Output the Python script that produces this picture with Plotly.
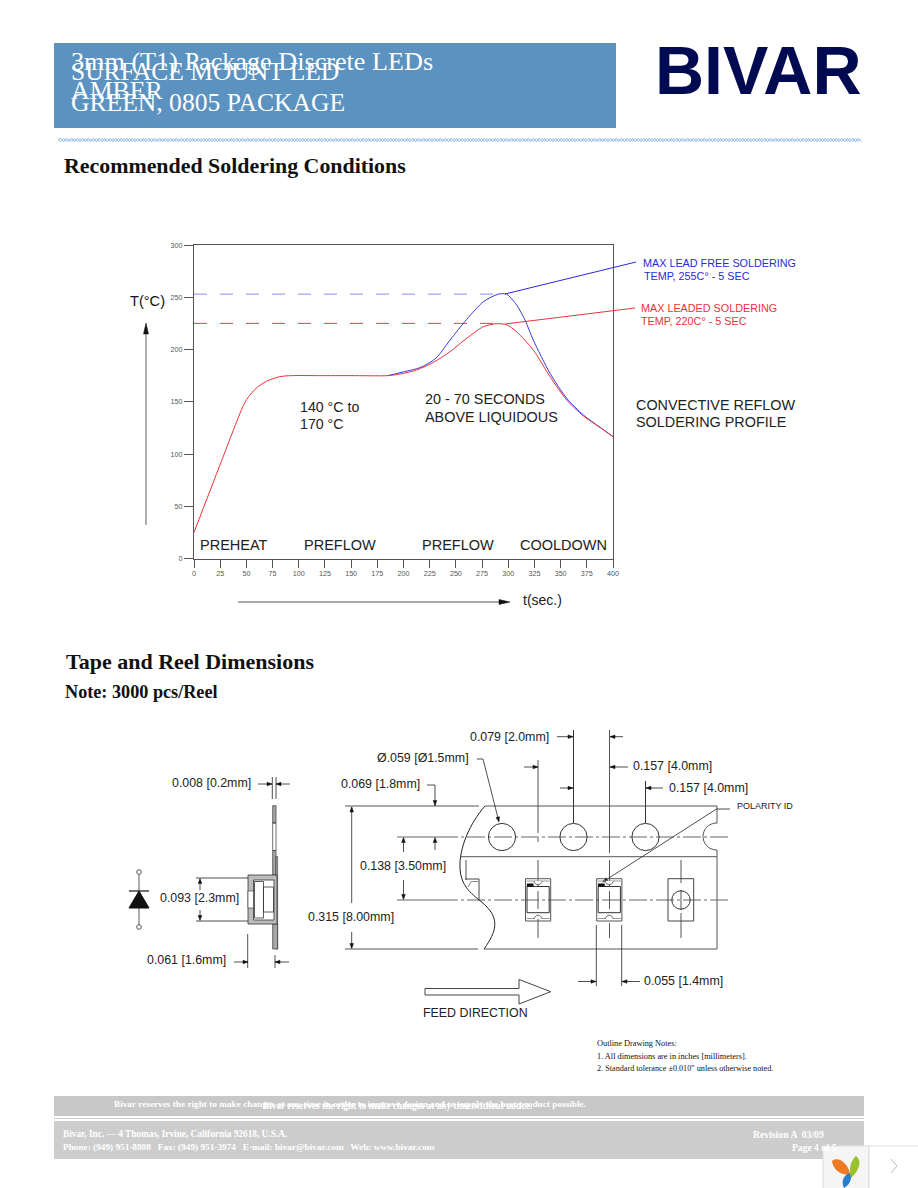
import plotly.graph_objects as go

W, H = 918, 1188

# ---- chart data
red_t = [0, 25, 46.7, 51.5, 59.4, 69, 81.6, 92.8, 120, 150, 185, 196.7, 212.6, 228.5, 244.4, 260.3, 276.2, 288.9, 298.4, 308, 323.9, 339.9, 355.8, 371.7, 387.6, 400]
red_T = [25, 90, 145.5, 154, 163, 169.5, 174, 175, 175, 175, 175, 176.5, 180.4, 187.7, 197.9, 210.7, 221.8, 224.7, 223.7, 217, 199.5, 174, 151.7, 136.4, 125.5, 116.6]
blue_t = [185, 196.7, 216.7, 231, 244.4, 260.3, 276.2, 290.5, 298.4, 308, 316, 323.9, 339.9, 355.8, 371.7, 387.6, 400]
blue_T = [175, 177.8, 183, 191.7, 209, 228.8, 245.7, 253, 253, 242.6, 228.2, 209, 177.2, 153.3, 137.3, 125.5, 116.6]
dash_t = [0, 290]
dash_blue = [253, 253]
dash_red = [225, 225]
x_ticks = list(range(0, 401, 25))
y_ticks = list(range(0, 301, 50))

SANS = "Liberation Sans"
SERIF = "Liberation Serif"
shapes, ann = [], []

def X(x): return x / W
def Y(y): return 1 - y / H

def line(x0, y0, x1, y1, c="#222", w=1, dash=None):
    shapes.append(dict(type="line", xref="paper", yref="paper", x0=X(x0), y0=Y(y0), x1=X(x1), y1=Y(y1),
                       line=dict(color=c, width=w, dash=dash or "solid")))

def rect(x0, y0, x1, y1, fill="rgba(0,0,0,0)", c="#333", w=1):
    shapes.append(dict(type="rect", xref="paper", yref="paper", x0=X(x0), y0=Y(y0), x1=X(x1), y1=Y(y1),
                       fillcolor=fill, line=dict(color=c, width=w)))

def circle(cx, cy, r, fill="rgba(0,0,0,0)", c="#333", w=1):
    shapes.append(dict(type="circle", xref="paper", yref="paper", x0=X(cx - r), y0=Y(cy - r), x1=X(cx + r), y1=Y(cy + r),
                       fillcolor=fill, line=dict(color=c, width=w)))

def path(d, fill="rgba(0,0,0,0)", c="#333", w=1):
    out = []
    for seg in d:
        cmd, pts = seg[0], seg[1:]
        coords = " ".join(f"{X(pts[i]):.5f},{Y(pts[i+1]):.5f}" for i in range(0, len(pts), 2))
        out.append(f"{cmd} {coords}" if coords else cmd)
    shapes.append(dict(type="path", xref="paper", yref="paper", path=" ".join(out), fillcolor=fill,
                       line=dict(color=c, width=w)))

def head(x, y, dx, dy, s=5, hw=1.8, fill="#111"):
    px, py = -dy, dx
    path([("M", x, y), ("L", x - dx * s + px * hw, y - dy * s + py * hw),
          ("L", x - dx * s - px * hw, y - dy * s - py * hw), ("Z",)], fill=fill, c=fill, w=0.5)

def text(x, y, s, size=12, c="#111", font=SANS, anchor="left", op=1):
    ann.append(dict(x=X(x - 1), y=Y(y), xref="paper", yref="paper", text=s, showarrow=False, xanchor=anchor,
                    yanchor="middle", align=anchor, borderpad=0, opacity=op,
                    font=dict(family=font, size=size, color=c)))

# ---- page header
rect(54, 43, 616, 128, fill="#5b92bf", c="#5b92bf", w=0)
for x, y, s, sz in [(71, 61, "3mm (T1) Package Discrete LEDs", 26.2), (71, 72, "SURFACE MOUNT LED", 25.5),
                    (71, 91, "AMBER", 25.8), (71, 102, "GREEN, 0805 PACKAGE", 25.6)]:
    text(x, y, s, size=sz, c="white", font=SERIF)
text(655, 70, "<b>BIVAR</b>", size=68, c="#000a50", font=SANS)

for phase, col in [(0, "#7aaee8"), (1, "#a8c8f0")]:
    zig = [("M", 58, 140)]
    xz = 58.0
    k = phase
    while xz < 860:
        xz += 2.75
        zig.append(("L", xz, 138.4 if k % 2 == 0 else 141.6))
        k += 1
    path(zig, c=col, w=1)

text(64, 166, "<b>Recommended Soldering Conditions</b>", size=21.9, font=SERIF)
text(66, 661, "<b>Tape and Reel Dimensions</b>", size=22, font=SERIF)
text(65, 692, "<b>Note: 3000 pcs/Reel</b>", size=18.2, font=SERIF)

# ---- chart texts and arrows
line(146, 525, 146, 330, c="#777", w=1.2)
head(146, 323, 0, -1, s=11, hw=2.5)
line(238, 602, 500, 602, c="#555", w=1.2)
head(510, 602, 1, 0, s=11, hw=2.5)
line(505, 294, 636, 262, c="#2a2ad8")
line(505, 324, 635, 308, c="#e8323c")
text(130, 301, "T(°C)", size=14.6)
text(523, 600, "t(sec.)", size=14, c="#222")
text(300, 407, "140 °C to", size=14.2, c="#222")
text(300, 424, "170 °C", size=14.2, c="#222")
text(425, 399, "20 - 70 SECONDS", size=14.4, c="#222")
text(425, 417, "ABOVE LIQUIDOUS", size=14.4, c="#222")
text(636, 405, "CONVECTIVE REFLOW", size=14.4, c="#222")
text(636, 422, "SOLDERING PROFILE", size=14.4, c="#222")
for x, s in [(200, "PREHEAT"), (304, "PREFLOW"), (422, "PREFLOW"), (520, "COOLDOWN")]:
    text(x, 545, s, size=14.5, c="#222")
text(643, 263, "MAX LEAD FREE SOLDERING", size=10.8, c="#2a2ad8")
text(644, 276, "TEMP, 255C° - 5 SEC", size=10.8, c="#2a2ad8")
text(641, 308, "MAX LEADED SOLDERING", size=10.8, c="#e8323c")
text(641, 321, "TEMP, 220C° - 5 SEC", size=10.8, c="#e8323c")

# ---- side section of tape
H_FILL = "#a8a8a8"
line(272.3, 777, 272.3, 799, w=0.8); line(276, 777, 276, 799, w=0.8)
line(258, 784, 272, 784, w=0.8); head(272, 784, 1, 0)
line(276, 784, 290, 784, w=0.8); head(276, 784, -1, 0)
rect(272.7, 805.7, 276, 823, fill=H_FILL, w=0.7)
rect(272.7, 823, 276, 850.5, w=0.7)
rect(272.7, 850.5, 276, 875, fill=H_FILL, w=0.7)
rect(276, 856.5, 277.6, 949, w=0.7)
rect(272.7, 924, 277.6, 949, fill=H_FILL, w=0.7)
rect(248, 875, 277, 924, fill="#bcbcbc", w=0.8)
rect(253.5, 880, 274, 920, fill="white", w=0.8)
rect(248, 891, 253.5, 908, fill="white", w=0.6)
rect(254.5, 881.5, 263.5, 918, w=0.8)
rect(263.5, 887, 273.5, 912, w=0.8)
line(196, 878, 248, 878, w=0.8); line(196, 921, 248, 921, w=0.8)
line(200, 883, 200, 890, w=0.8); head(200, 878.5, 0, -1)
line(200, 910, 200, 917, w=0.8); head(200, 920.5, 0, 1)
line(247.7, 934, 247.7, 968, w=0.8); line(275, 955, 275, 968, w=0.8)
line(234, 962, 248, 962, w=0.8); head(248, 962, 1, 0)
line(275, 962, 289, 962, w=0.8); head(275, 962, -1, 0)
# diode
line(139, 874, 139, 925, c="#777", w=1.2)
circle(139, 872, 2.3, fill="white", c="#555")
circle(139, 927, 2.3, fill="white", c="#555")
line(129, 891, 149, 891, c="#111", w=1.2)
path([("M", 139, 891), ("L", 129, 908), ("L", 149, 908), ("Z",)], fill="#111", c="#111")

# ---- tape outline
GC = "#555"
line(345, 806, 479, 806, c=GC); line(485, 806, 717, 806, c=GC)
line(345, 949, 478, 949, c=GC); line(484, 949, 717, 949, c=GC)
line(717, 806, 717, 823, c=GC); line(717, 850, 717, 949, c=GC)
path([("M", 717, 823), ("C", 708, 823, 703, 830, 703, 836.5), ("C", 703, 843, 708, 850, 717, 850)], c=GC)
line(461, 856.7, 717, 856.7, c=GC)
path([("M", 485, 806), ("C", 470, 823, 459, 848, 460, 868), ("C", 461, 890, 476, 896, 486, 906),
      ("C", 499, 919, 497, 931, 484, 949)], c="#222")
for y in [837, 900]:
    line(440, y, 728, y, c="#666", w=1, dash="18px,3px,3px,3px")
line(397, 837, 440, 837, c="#666"); line(397, 900, 440, 900, c="#666")
for cx in [502, 573.5, 645.5]:
    circle(cx, 837, 13.6, c="#333")
for x, segs in [(538, [(760, 833), (838, 842), (860, 887), (891, 909), (917, 938)]),
                (609.5, [(730, 853), (860, 887), (891, 909), (923, 938)]),
                (681, [(860, 883), (890, 910), (913, 938)])]:
    for y0, y1 in segs:
        line(x, y0, x, y1, c="#555")
line(573.5, 730, 573.5, 823, c="#333"); line(645.5, 781, 645.5, 823, c="#333")
line(557, 736.7, 573, 736.7, w=0.8); head(573, 736.7, 1, 0)
line(610, 736.7, 623, 736.7, w=0.8); head(610, 736.7, -1, 0)
line(524, 767, 538, 767, w=0.8); head(538, 767, 1, 0)
line(610, 767, 628, 767, w=0.8); head(610, 767, -1, 0)
line(560, 788, 573, 788, w=0.8); head(573, 788, 1, 0)
line(646, 788, 663, 788, w=0.8); head(646, 788, -1, 0)
line(427, 785, 435, 785, w=0.8); line(435, 785, 435, 806, w=0.8); head(435, 805.5, 0, 1)
line(435, 842, 435, 850, w=0.8); head(435, 837.5, 0, -1)
line(351.7, 807, 351.7, 903, w=0.8); head(351.7, 807, 0, -1)
line(351.7, 932, 351.7, 948, w=0.8); head(351.7, 948.5, 0, 1)
line(403.5, 842, 403.5, 852, w=0.8); head(403.5, 837.5, 0, -1)
line(403.5, 880, 403.5, 895, w=0.8); head(403.5, 899.5, 0, 1)
path([("M", 477, 759), ("L", 483, 759), ("L", 498.5, 820)], c="#222", w=0.8); head(499, 822, 0.25, 0.97)
line(716.5, 809, 730, 809, w=0.8)
line(716.5, 809, 602.7, 882, w=0.8); head(602.7, 882, -0.84, 0.54)
# 0.055 dimension
line(596.3, 925, 596.3, 986, w=0.8); line(621.7, 925, 621.7, 986, w=0.8)
line(578, 981.5, 596, 981.5, w=0.8); head(596, 981.5, 1, 0)
line(622, 981.5, 640, 981.5, w=0.8); head(622, 981.5, -1, 0)

# components
line(466, 860, 466, 880, c="#555")
path([("M", 465, 879), ("L", 479, 879), ("L", 479, 901)], c="#444", w=1)
path([("M", 468, 887), ("L", 471, 881.5), ("L", 478, 881.5)], c="#888")
for x0 in [525.5, 596.7]:
    x1 = x0 + 25.2
    cx = x0 + 12.6
    rect(x0, 878.7, x1, 921, c="#555", w=1)
    rect(x0 + 1.5, 886.5, x1 - 1.5, 912.7, c="#333", w=1)
    line(x0 + 1, 881, x1 - 1, 881, c="#999"); line(x0 + 1, 918.5, x1 - 1, 918.5, c="#999")
    rect(x0 + 1.3, 883.5, x0 + 8, 886.7, fill="#111", c="#111", w=0)
    path([("M", cx - 4, 881), ("C", cx - 3, 886, cx + 3, 886, cx + 4, 881)], fill="white", c="#666")
    path([("M", cx - 4, 919), ("C", cx - 3, 914, cx + 3, 914, cx + 4, 919)], fill="white", c="#666")
rect(668, 878.7, 693.7, 921, c="#444")
circle(681, 900, 9.2, c="#333")
# feed arrow
path([("M", 425, 988.5), ("L", 519, 988.5), ("L", 519, 979.5), ("L", 550.7, 991.7), ("L", 519, 1004),
      ("L", 519, 995), ("L", 425, 995), ("Z",)], c="#444", w=1)

for x, y, s in [(172, 783, "0.008 [0.2mm]"), (341, 784, "0.069 [1.8mm]"), (377, 758, "Ø.059 [Ø1.5mm]"),
                (470, 737, "0.079 [2.0mm]"), (633, 766, "0.157 [4.0mm]"), (669, 788, "0.157 [4.0mm]"),
                (360, 866, "0.138 [3.50mm]"), (160, 898, "0.093 [2.3mm]"), (308, 917, "0.315 [8.00mm]"),
                (147, 960, "0.061 [1.6mm]"), (644, 981, "0.055 [1.4mm]"), (423, 1013, "FEED DIRECTION")]:
    text(x, y, s, size=12.4, c="#222")
text(737, 806, "POLARITY ID", size=9, c="#222")

# ---- notes and footer
text(597, 1043, "Outline Drawing Notes:", size=8.3, font=SERIF)
text(597, 1056, "1. All dimensions are in inches [millimeters].", size=8.3, font=SERIF)
text(597, 1068, "2. Standard tolerance ±0.010\" unless otherwise noted.", size=8.2, font=SERIF)
rect(54, 1096, 864, 1116, fill="#c8c8c8", c="#c8c8c8", w=0)
rect(54, 1118, 864, 1119, fill="#cccccc", c="#cccccc", w=0)
rect(54, 1121, 864, 1159, fill="#cdcdcd", c="#cdcdcd", w=0)
text(114, 1104, "<b>Bivar reserves the right to make changes at any time in order to improve design and to supply the best product possible.</b>", size=9.25, c="white", font=SERIF)
text(263, 1106, "<b>Bivar reserves the right to make changes at any time without notice.</b>", size=9.3, c="white", font=SERIF)
text(63, 1134, "<b>Bivar, Inc. — 4 Thomas, Irvine, California 92618, U.S.A.</b>", size=9.3, c="white", font=SERIF)
text(63, 1147, "<b>Phone: (949) 951-8808   Fax: (949) 951-3974   E-mail: bivar@bivar.com   Web: www.bivar.com</b>", size=9.25, c="white", font=SERIF)
text(753, 1134, "<b>Revision A  03/09</b>", size=9.7, c="white", font=SERIF)
text(792, 1147, "<b>Page 4 of 5</b>", size=9.6, c="white", font=SERIF)

# ---- viewer widget, lower right
rect(823, 1146, 869, 1189, fill="#f5f5f5", c="#dddddd", w=1)
rect(869, 1146, 919, 1189, fill="white", c="#dddddd", w=1)
path([("M", 832, 1161), ("C", 838, 1156, 848, 1163, 850, 1174), ("C", 842, 1176, 833, 1170, 832, 1161), ("Z",)], fill="#ee7a22", c="#ee7a22", w=0)
path([("M", 856, 1156), ("C", 862, 1160, 860, 1170, 851, 1178), ("C", 848, 1170, 851, 1160, 856, 1156), ("Z",)], fill="#9ac22c", c="#9ac22c", w=0)
path([("M", 849, 1173), ("C", 853, 1176, 851, 1184, 844, 1188), ("C", 841, 1182, 843, 1176, 849, 1173), ("Z",)], fill="#2b7fc9", c="#2b7fc9", w=0)
path([("M", 891, 1159), ("L", 897, 1166), ("L", 891, 1173)], c="#bbbbbb", w=1)

# ---- figure
fig = go.Figure()
for tx, ty, col, dash, shp in [
    (dash_t, dash_blue, "#8c8cf0", "13px,13px", "linear"),
    (dash_t, dash_red, "#e8404c", "13px,13px", "linear"),
    (blue_t, blue_T, "#3a3ad8", "solid", "spline"),
    (red_t, red_T, "#e8323c", "solid", "spline"),
]:
    ln = dict(color=col, width=1, dash=dash, shape=shp)
    if shp == "spline":
        ln["smoothing"] = 0.7
    fig.add_trace(go.Scatter(x=tx, y=ty, mode="lines", line=ln, hoverinfo="skip", showlegend=False))

axis = dict(showgrid=False, zeroline=False, showline=True, mirror=True, linecolor="#555", linewidth=1,
            ticks="outside", tickcolor="#555", tickwidth=1,
            tickfont=dict(family=SANS, size=7.2, color="#555"), automargin=False)
fig.update_layout(
    width=W, height=H, autosize=False, margin=dict(l=0, r=0, t=0, b=0), showlegend=False,
    paper_bgcolor="white", plot_bgcolor="white", shapes=shapes, annotations=ann,
    xaxis=dict(domain=[194 / W, 613 / W], range=[0, 400], tickvals=x_ticks, ticklen=8, **axis),
    yaxis=dict(domain=[1 - 558.5 / H, 1 - 245 / H], range=[0, 300], tickvals=y_ticks, ticklen=9, **axis),
)
fig.write_html("out.html", post_script="document.body.style.margin='0';document.documentElement.style.overflow='hidden';",
               config={"displayModeBar": False})
